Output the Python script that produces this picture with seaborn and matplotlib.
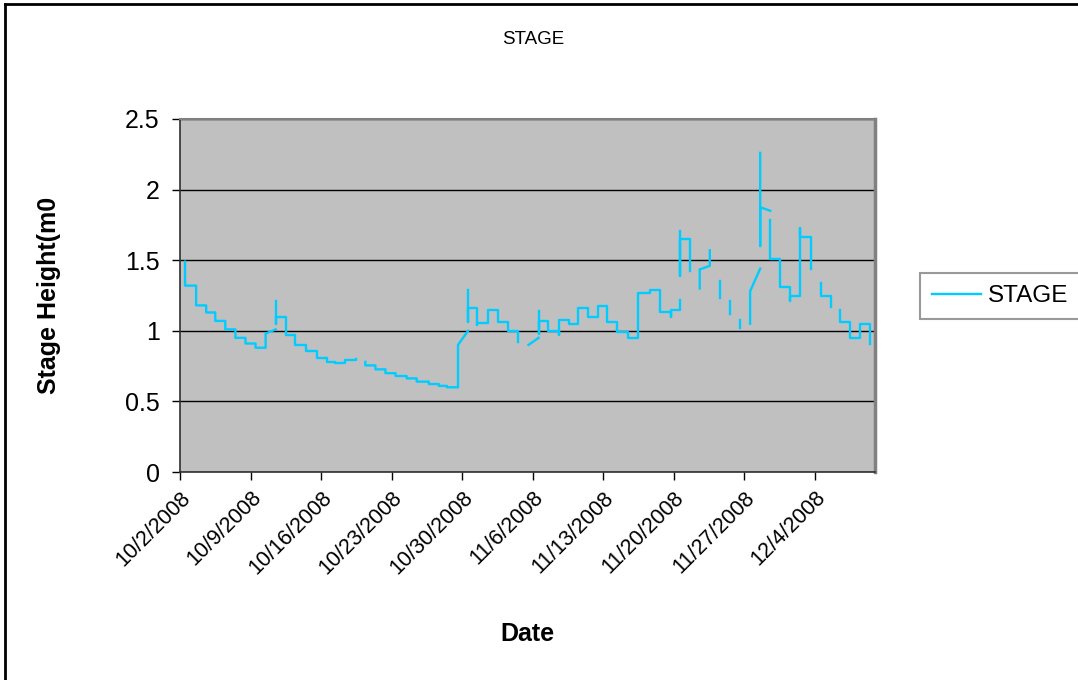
import numpy as np
import pandas as pd
import matplotlib
matplotlib.use("Agg")
import matplotlib.pyplot as plt
from matplotlib.lines import Line2D
import seaborn as sns

# ==========================================
# data: stage readings, days after 10/2/2008, broken into pieces where the logger had gaps
# ==========================================
START = pd.Timestamp("2008-10-02")

seg1_day = [0.5, 0.5, 1.6, 1.6, 2.6, 2.6, 3.5, 3.5, 4.5, 4.5, 5.5, 5.5, 6.5, 6.5, 7.5, 7.5, 8.5, 8.5, 9.5]
seg1_val = [1.49, 1.32, 1.32, 1.18, 1.18, 1.13, 1.13, 1.07, 1.07, 1.01, 1.01, 0.95, 0.95, 0.91, 0.91, 0.88, 0.88, 0.98, 1.01]

seg2_day = [9.5, 9.5, 9.5, 10.5, 10.5, 11.4, 11.4, 12.5, 12.5, 13.6, 13.6, 14.6, 14.6, 15.4, 15.4, 16.4, 16.4, 17.5, 17.5]
seg2_val = [1.21, 1.05, 1.10, 1.10, 0.97, 0.97, 0.90, 0.90, 0.86, 0.86, 0.81, 0.81, 0.78, 0.78, 0.77, 0.77, 0.79, 0.79, 0.80]

seg3_day = [18.4, 18.4, 19.4, 19.4, 20.4, 20.4, 21.4, 21.4, 22.5, 22.5, 23.5, 23.5, 24.7, 24.7, 25.7, 25.7, 26.5, 26.5, 27.6, 27.6, 28.6]
seg3_val = [0.78, 0.755, 0.755, 0.727, 0.727, 0.70, 0.70, 0.68, 0.68, 0.663, 0.663, 0.64, 0.64, 0.623, 0.623, 0.61, 0.61, 0.60, 0.60, 0.90, 1.00]

seg4_day = [28.6, 28.6, 28.6, 29.5, 29.5, 29.5, 30.6, 30.6, 31.6, 31.6, 32.6, 32.6, 33.6, 33.6]
seg4_val = [1.29, 1.06, 1.16, 1.16, 1.04, 1.057, 1.057, 1.15, 1.15, 1.065, 1.065, 1.00, 1.00, 0.92]

seg5_day = [34.6, 35.6]
seg5_val = [0.90, 0.95]

seg6_day = [35.6, 35.6, 35.6, 36.5, 36.5, 37.6, 37.6, 37.6, 38.6, 38.6, 39.5, 39.5, 40.5, 40.5, 41.5, 41.5,
            42.4, 42.4, 43.4, 43.4, 44.5, 44.5, 45.5, 45.5, 46.7, 46.7, 47.7, 47.7, 48.7, 48.7, 48.7, 49.6, 49.6]
seg6_val = [1.14, 0.98, 1.07, 1.07, 1.00, 1.00, 0.97, 1.08, 1.08, 1.05, 1.05, 1.16, 1.16, 1.10, 1.10, 1.175,
            1.175, 1.065, 1.065, 0.99, 0.99, 0.95, 0.95, 1.27, 1.27, 1.29, 1.29, 1.135, 1.135, 1.10, 1.15, 1.15, 1.22]

seg7_day = [49.6, 49.6, 49.6, 50.6, 50.6]
seg7_val = [1.71, 1.39, 1.65, 1.65, 1.42]

seg8_day = [51.6, 51.6, 52.6, 52.6]
seg8_val = [1.30, 1.435, 1.46, 1.57]

seg9_day = [53.6, 53.6]
seg9_val = [1.35, 1.23]

seg10_day = [54.6, 54.6]
seg10_val = [1.21, 1.12]

seg11_day = [55.6, 55.6]
seg11_val = [1.08, 1.02]

seg12_day = [56.6, 56.6, 57.6]
seg12_val = [1.05, 1.28, 1.44]

seg13_day = [57.6, 57.6, 57.6, 58.6]
seg13_val = [2.26, 1.60, 1.875, 1.85]

seg14_day = [58.6, 58.6, 59.6, 59.6, 60.6, 60.6, 60.6, 61.6, 61.6, 61.6, 62.6, 62.6]
seg14_val = [1.785, 1.51, 1.51, 1.31, 1.31, 1.21, 1.245, 1.245, 1.725, 1.667, 1.667, 1.44]

seg15_day = [63.6, 63.6, 64.6, 64.6]
seg15_val = [1.34, 1.25, 1.25, 1.17]

seg16_day = [65.5, 65.5, 66.5, 66.5, 67.5, 67.5, 68.5, 68.5]
seg16_val = [1.15, 1.065, 1.065, 0.95, 0.95, 1.05, 1.05, 0.905]

segments = [
    (seg1_day, seg1_val), (seg2_day, seg2_val), (seg3_day, seg3_val), (seg4_day, seg4_val),
    (seg5_day, seg5_val), (seg6_day, seg6_val), (seg7_day, seg7_val), (seg8_day, seg8_val),
    (seg9_day, seg9_val), (seg10_day, seg10_val), (seg11_day, seg11_val), (seg12_day, seg12_val),
    (seg13_day, seg13_val), (seg14_day, seg14_val), (seg15_day, seg15_val), (seg16_day, seg16_val),
]

y_ticks = [0, 0.5, 1, 1.5, 2, 2.5]
y_tick_labels = ["0", "0.5", "1", "1.5", "2", "2.5"]

rows = []
for i, (d, v) in enumerate(segments):
    for dd, vv in zip(d, v):
        rows.append({"Date": START + pd.Timedelta(days=dd), "STAGE": vv, "seg": i})
df = pd.DataFrame(rows)

# ==========================================
# figure
# ==========================================
plt.rcParams["font.family"] = ["Liberation Sans", "DejaVu Sans"]

fig = plt.figure(figsize=(10.78, 6.8), dpi=100)
ax = fig.add_axes([180 / 1078, 1 - 472 / 680, 695 / 1078, 353 / 680])
ax.set_facecolor("#c0c0c0")

sns.lineplot(data=df, x="Date", y="STAGE", units="seg", estimator=None, sort=False,
             color="#00ccff", linewidth=1.7, ax=ax)

ax.set_ylim(0, 2.5)
ax.set_xlim(START, START + pd.Timedelta(days=69))
ax.set_yticks(y_ticks)
ax.set_yticklabels(y_tick_labels)
ax.yaxis.grid(True, color="black", linewidth=1.0)
ax.set_axisbelow(True)

ticks = [START + pd.Timedelta(days=7 * k) for k in range(10)]
ax.set_xticks(ticks)
ax.set_xticklabels([f"{t.month}/{t.day}/{t.year}" for t in ticks], rotation=45,
                   ha="right", va="top", rotation_mode="anchor")
ax.tick_params(axis="x", length=6, width=1, colors="black", labelsize=15.5, pad=5, direction="out")
ax.tick_params(axis="y", length=6, width=1, colors="black", labelsize=18, pad=8.5, direction="out")

for side in ["left", "bottom"]:
    ax.spines[side].set_color("#303030")
    ax.spines[side].set_linewidth(1.2)
for side in ["top", "right"]:
    ax.spines[side].set_color("#808080")
    ax.spines[side].set_linewidth(1.5)
ax.spines["right"].set_linewidth(2.5)

ax.set_xlabel("Date", fontsize=18, fontweight="bold")
ax.set_ylabel("Stage Height(m0", fontsize=18, fontweight="bold")
ax.xaxis.set_label_coords(0.5, (472 - 622) / 353)
ax.yaxis.set_label_coords((61 - 180) / 695, 0.5)
fig.text(533 / 1078, 1 - 40 / 680, "STAGE", fontsize=13.5, ha="center", va="center")

handle = Line2D([], [], color="#00ccff", linewidth=1.7)
leg = fig.legend([handle], ["STAGE"], loc="center left", bbox_to_anchor=(920 / 1078, 1 - 296 / 680),
                 fontsize=17.5, frameon=True, fancybox=False, handlelength=2.0, handletextpad=0.3,
                 borderpad=0.5, borderaxespad=0)
leg.get_frame().set_edgecolor("#808080")
leg.get_frame().set_linewidth(1.5)

# outer chart border (only left and top edges are visible in the crop)
fig.add_artist(Line2D([5 / 1078, 5 / 1078], [0, 1 - 4 / 680], color="black", linewidth=2,
                      transform=fig.transFigure))
fig.add_artist(Line2D([5 / 1078, 1], [1 - 4 / 680, 1 - 4 / 680], color="black", linewidth=2,
                      transform=fig.transFigure))

fig.savefig("out.png", dpi=100)
